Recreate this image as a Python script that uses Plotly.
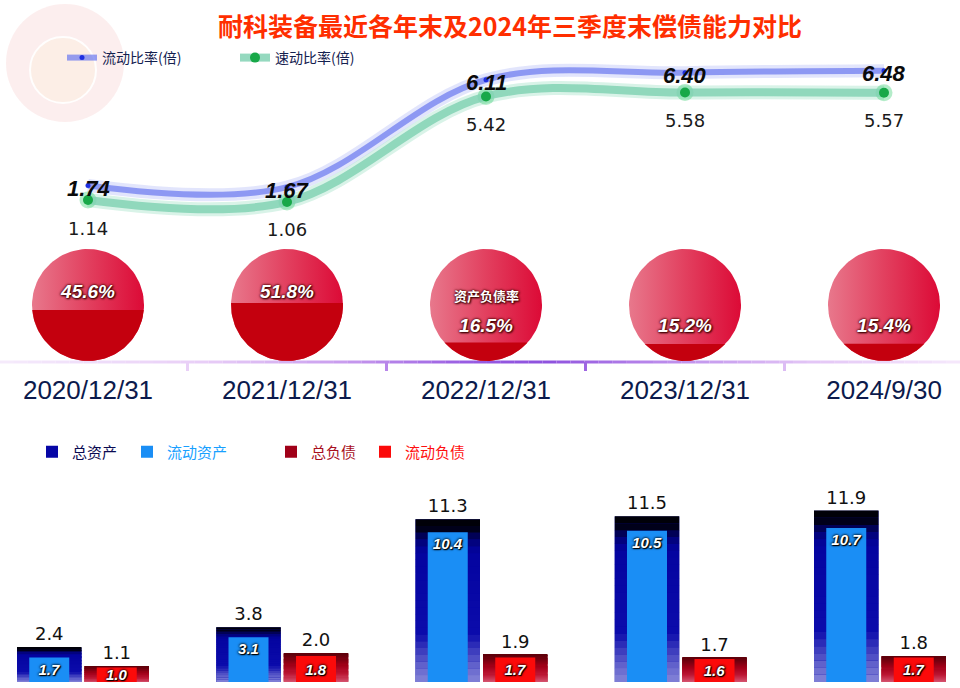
import numpy as np
import plotly.graph_objects as go

# ---- data ----
dates = ["2020/12/31", "2021/12/31", "2022/12/31", "2023/12/31", "2024/9/30"]
current_ratio = [1.74, 1.67, 6.11, 6.40, 6.48]
quick_ratio = [1.14, 1.06, 5.42, 5.58, 5.57]
debt_ratio = [45.6, 51.8, 16.5, 15.2, 15.4]
total_assets = [2.4, 3.8, 11.3, 11.5, 11.9]
current_assets = [1.7, 3.1, 10.4, 10.5, 10.7]
total_liab = [1.1, 2.0, 1.9, 1.7, 1.8]
current_liab = [1.0, 1.8, 1.7, 1.6, 1.7]

W, H = 960, 688
idx = list(range(len(dates)))


def py(px):
    return 1 - px / H


CJK = "Noto Sans CJK SC"
NUM = "Liberation Sans, Noto Sans CJK SC"

# category axis for lines / circles / dates
CAT = 199.0
X0 = 88.0
xr = [-X0 / CAT, (W - X0) / CAT]
# bar axis (pairs sit a little left of the date labels)
BX = 199.25
B0 = 83.0
x2r = [-B0 / BX, (W - B0) / BX]

fig = go.Figure()

# ---- ratio lines ----
fig.add_trace(go.Scatter(x=idx, y=current_ratio, mode="lines", line=dict(color="rgba(160,170,245,0.3)", width=13, shape="spline"),
                         hoverinfo="skip", showlegend=False))
fig.add_trace(go.Scatter(x=idx, y=current_ratio, mode="lines+markers", name="流动比率(倍)",
                         line=dict(color="rgba(105,120,240,0.7)", width=6, shape="spline"),
                         marker=dict(size=5, color="#1f2fe0"), hoverinfo="skip", legend="legend"))
fig.add_trace(go.Scatter(x=idx, y=quick_ratio, mode="lines", line=dict(color="rgba(170,228,205,0.45)", width=14, shape="spline"),
                         hoverinfo="skip", showlegend=False))
fig.add_trace(go.Scatter(x=idx, y=quick_ratio, mode="markers", marker=dict(size=17, color="rgba(40,200,100,0.35)"),
                         hoverinfo="skip", showlegend=False))
fig.add_trace(go.Scatter(x=idx, y=quick_ratio, mode="lines+markers", name="速动比率(倍)",
                         line=dict(color="rgba(130,210,180,0.85)", width=8, shape="spline"),
                         marker=dict(size=10, color="#18a848"), hoverinfo="skip", legend="legend"))

annotations = []
for i, v in enumerate(current_ratio):
    annotations.append(dict(x=i, y=v, xref="x", yref="y", text=f"{v:.2f}", showarrow=False, yshift=-3,
                            font=dict(family=NUM, size=22, color="#0a0a0a", weight="bold", style="italic")))
for i, v in enumerate(quick_ratio):
    annotations.append(dict(x=i, y=v, xref="x", yref="y", text=f"{v:.2f}", showarrow=False, yshift=-28,
                            font=dict(family="DejaVu Sans", size=18, color="#1a1a1a")))

# ---- debt-ratio circles ----
R = 56.0
CY = 67.0
t = np.linspace(0, 2 * np.pi, 121)
shadow = "0 0 3px #4a0000, 0 0 2px #4a0000, 1px 1px 2px #2a0000"
for i, d in enumerate(debt_ratio):
    fig.add_trace(go.Scatter(x=i + R / CAT * np.cos(t), y=CY + R * np.sin(t), mode="lines", fill="toself",
                             fillgradient=dict(type="horizontal", colorscale=[[0, "#e8788c"], [0.5, "#e2405f"], [1, "#dc0a36"]]),
                             line=dict(width=0), xaxis="x", yaxis="y2", hoverinfo="skip", showlegend=False))
    level = CY - R + 2 * R * d / 100
    a = np.arcsin((level - CY) / R)
    tt = np.linspace(np.pi - a, 2 * np.pi + a, 90)
    fig.add_trace(go.Scatter(x=i + R / CAT * np.cos(tt), y=CY + R * np.sin(tt), mode="lines", fill="toself",
                             fillcolor="#c4000e", line=dict(width=0), xaxis="x", yaxis="y2",
                             hoverinfo="skip", showlegend=False))

label_y = [CY + 12 if d > 30 else CY - 22 for d in debt_ratio]
fig.add_trace(go.Scatter(x=idx, y=label_y, mode="text", text=[f"{d:.1f}%" for d in debt_ratio],
                         textfont=dict(family=NUM, size=19, color="white", weight="bold", style="italic", shadow=shadow),
                         xaxis="x", yaxis="y2", hoverinfo="skip", showlegend=False))
annotations.append(dict(x=2, y=CY + 10, xref="x", yref="y2", text="资产负债率", showarrow=False,
                        font=dict(family=CJK, size=13, color="white", weight="bold", shadow=shadow)))

# ---- bars ----
bw = 64.5 / BX
iw = 40 / BX
a_off = -66 / BX
l_off = 1.5 / BX
# vertical colour ramps (fraction of bar height from the bottom)
ASSET_RAMP = [(0.0, (132, 132, 216)), (0.12, (92, 92, 202)), (0.3, (12, 12, 172)), (0.8, (4, 4, 160)),
              (0.88, (2, 2, 112)), (0.93, (0, 0, 30)), (1.0, (0, 0, 0))]
LIAB_RAMP = [(0.0, (214, 84, 112)), (0.3, (188, 22, 52)), (0.6, (160, 0, 24)), (1.0, (92, 0, 10))]
N_BANDS = 24


def ramp_color(ramp, f):
    fs = [r[0] for r in ramp]
    rgb = [int(np.interp(f, fs, [r[1][k] for r in ramp])) for k in range(3)]
    return "rgb(%d,%d,%d)" % tuple(rgb)


inside_font = dict(family=NUM, size=15, color="white", weight="bold", style="italic",
                   shadow="0 0 2px #000, 0 0 3px #000, 1px 1px 1px #000")
outside_font = dict(family="DejaVu Sans", size=18, color="#111111")


def bar(vals, base, off, width, color, **kw):
    return go.Bar(x=idx, y=vals, base=base, offset=off, width=width,
                  marker=dict(color=color, line=dict(width=0)), xaxis="x2", yaxis="y3",
                  hoverinfo="skip", **kw)


def ramp_bars(vals, off, ramp):
    edges = np.linspace(0, 1, N_BANDS + 1)
    for f0, f1 in zip(edges[:-1], edges[1:]):
        fig.add_trace(bar([v * (f1 - f0) * 1.02 for v in vals], [v * f0 for v in vals], off, bw,
                          ramp_color(ramp, (f0 + f1) / 2), showlegend=False))


fig.add_trace(bar(total_assets, None, a_off, bw, "#0606a6", name='<span style="color:#0b0b52">总资产</span>',
                  legend="legend2", text=[f"{v:.1f}" for v in total_assets], textposition="outside",
                  outsidetextfont=outside_font, cliponaxis=False))
ramp_bars(total_assets, a_off, ASSET_RAMP)
fig.add_trace(bar(current_assets, None, a_off + (bw - iw) / 2, iw, "#1a8ef5",
                  name='<span style="color:#18a0ff">流动资产</span>', legend="legend3",
                  text=[f"{v:.1f}" for v in current_assets], textposition="inside", insidetextanchor="end",
                  insidetextfont=inside_font, constraintext="none", cliponaxis=False))

fig.add_trace(bar(total_liab, None, l_off, bw, "#a00018", name='<span style="color:#a8101e">总负债</span>',
                  legend="legend4", text=[f"{v:.1f}" for v in total_liab], textposition="outside",
                  outsidetextfont=outside_font, cliponaxis=False))
ramp_bars(total_liab, l_off, LIAB_RAMP)
fig.add_trace(bar(current_liab, None, l_off + (bw - iw) / 2, iw, "#fb0a0a",
                  name='<span style="color:#ff1010">流动负债</span>', legend="legend5",
                  text=[f"{v:.1f}" for v in current_liab], textposition="inside", insidetextanchor="middle",
                  insidetextfont=inside_font, constraintext="none", cliponaxis=False))

# ---- decorations: timeline under the circles, faint logo ----
shapes = []
stops = [(-0.45, (246, 236, 252)), (0.6, (232, 206, 247)), (1.3, (200, 155, 238)), (1.9, (152, 92, 226)),
         (2.3, (142, 82, 222)), (2.8, (182, 132, 234)), (3.6, (226, 196, 246)), (4.4, (247, 234, 252))]
sx = [s[0] for s in stops]


def tl_color(m):
    rgb = [int(np.interp(m, sx, [s[1][k] for s in stops])) for k in range(3)]
    return "rgb(%d,%d,%d)" % tuple(rgb)


xs = np.linspace(xr[0], xr[1], 70)
for a0, a1 in zip(xs[:-1], xs[1:]):
    shapes.append(dict(type="line", xref="x", yref="y2", x0=a0, x1=a1, y0=10, y1=10,
                       line=dict(color=tl_color((a0 + a1) / 2), width=3), layer="below"))
for k in range(len(dates) - 1):
    shapes.append(dict(type="line", xref="x", yref="y2", x0=k + 0.5, x1=k + 0.5, y0=10, y1=1,
                       line=dict(color=tl_color(k + 0.5), width=3), layer="below"))

shapes.append(dict(type="circle", xref="paper", yref="paper", x0=6 / W, x1=124 / W, y0=py(122), y1=py(4),
                   fillcolor="rgba(248,212,212,0.4)", line=dict(width=0), layer="below"))
shapes.append(dict(type="circle", xref="paper", yref="paper", x0=30 / W, x1=96 / W, y0=py(103), y1=py(37),
                   fillcolor="rgba(252,238,222,0.5)", line=dict(color="rgba(255,255,255,0.9)", width=2), layer="below"))

annotations.append(dict(x=510 / W, y=py(25), xref="paper", yref="paper", showarrow=False,
                        xanchor="center", yanchor="middle",
                        text="耐科装备最近各年末及2024年三季度末偿债能力对比",
                        font=dict(family=CJK, size=25, color="#ff2e00", weight="bold")))

legend_common = dict(orientation="h", xanchor="left", yanchor="middle", bgcolor="rgba(0,0,0,0)", tracegroupgap=0)
bar_legend_font = dict(family=CJK, size=15)
fig.update_layout(
    width=W, height=H, margin=dict(l=0, r=0, t=0, b=0),
    paper_bgcolor="white", plot_bgcolor="rgba(0,0,0,0)",
    barmode="overlay", hovermode=False,
    xaxis=dict(domain=[0, 1], range=xr, anchor="y2", tickmode="array", tickvals=idx, ticktext=dates,
               tickfont=dict(family="Liberation Sans", size=26, color="#0c1a4c"),
               showgrid=False, zeroline=False, showline=False, ticks=""),
    xaxis2=dict(domain=[0, 1], range=x2r, anchor="y3", visible=False),
    yaxis=dict(domain=[py(250), py(40)], range=[-0.926, 7.752], visible=False),
    yaxis2=dict(domain=[py(372), py(238)], range=[0, 134], visible=False),
    yaxis3=dict(domain=[py(682), py(440)], range=[0, 242 / 14.4], visible=False, anchor="x2"),
    legend=dict(x=62 / W, y=py(58), entrywidth=128, entrywidthmode="pixels",
                font=dict(family=CJK, size=14, color="#14214f"), **legend_common),
    legend2=dict(x=32 / W, y=py(452), font=bar_legend_font, **legend_common),
    legend3=dict(x=127 / W, y=py(452), font=bar_legend_font, **legend_common),
    legend4=dict(x=271 / W, y=py(452), font=bar_legend_font, **legend_common),
    legend5=dict(x=365 / W, y=py(452), font=bar_legend_font, **legend_common),
    annotations=annotations, shapes=shapes,
    font=dict(family=NUM),
)

fig.write_html("out.html", config={"displayModeBar": False},
               post_script="document.body.style.margin='0';")
